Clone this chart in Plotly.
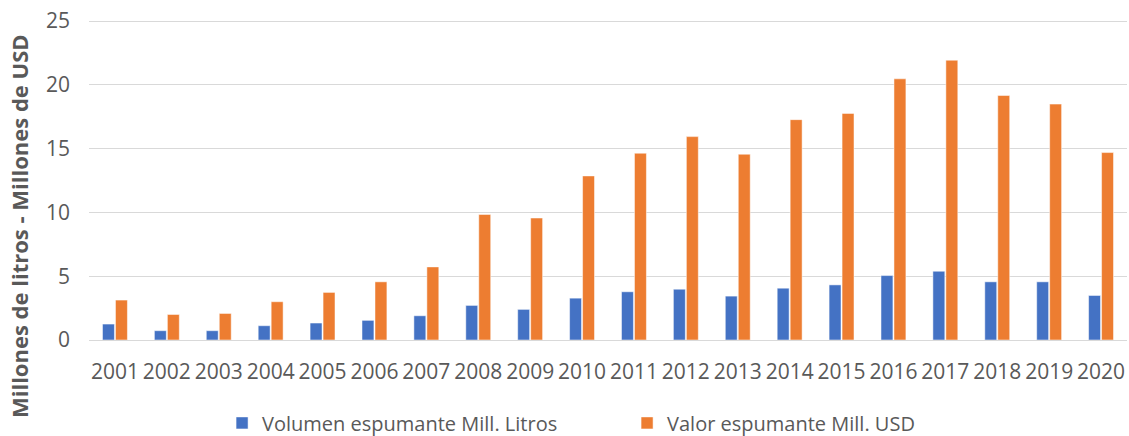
import plotly.graph_objects as go

years = [str(y) for y in range(2001, 2021)]
volumen = [1.25, 0.73, 0.73, 1.12, 1.33, 1.54, 1.90, 2.71, 2.40, 3.28,
           3.78, 3.98, 3.44, 4.06, 4.32, 5.05, 5.39, 4.56, 4.56, 3.49]
valor = [3.13, 2.00, 2.08, 3.00, 3.73, 4.56, 5.73, 9.84, 9.56, 12.86,
         14.64, 15.94, 14.56, 17.27, 17.76, 20.47, 21.93, 19.16, 18.49, 14.69]
y_ticks = [0, 5, 10, 15, 20, 25]
y_title = "Millones de litros - Millones de USD"

FONT = "Open Sans"
TXT = "#595959"

fig = go.Figure()
fig.add_trace(go.Bar(x=years, y=volumen, name="Volumen espumante Mill. Litros",
                     marker=dict(color="#4472C4", line=dict(color="white", width=0.5))))
fig.add_trace(go.Bar(x=years, y=valor, name="Valor espumante Mill. USD",
                     marker=dict(color="#ED7D31", line=dict(color="white", width=0.5))))

fig.update_layout(
    width=1129, height=436,
    margin=dict(l=89, r=2, t=20, b=96),
    paper_bgcolor="white", plot_bgcolor="white",
    barmode="group", bargap=0.5, bargroupgap=0.08,
    font=dict(family=FONT, size=21, color=TXT),
    showlegend=True,
    legend=dict(orientation="h", xref="container", yref="container",
                x=0.1967, xanchor="left", y=0.03, yanchor="middle",
                font=dict(family=FONT, size=20, color=TXT), itemwidth=30,
                entrywidth=360, entrywidthmode="pixels",
                traceorder="normal"),
)
fig.add_annotation(text="<b>" + y_title + "</b>", textangle=-90,
                   xref="paper", yref="paper", x=-0.0675, y=0.356,
                   xanchor="center", yanchor="middle", showarrow=False,
                   font=dict(family=FONT, size=22, color=TXT))
fig.update_xaxes(showgrid=False, showline=False, ticks="", ticklabelstandoff=17,
                 automargin=False, tickangle=0,
                 tickfont=dict(family=FONT, size=21, color=TXT))
fig.update_yaxes(range=[0, 25.08], tickvals=y_ticks, showgrid=True, gridcolor="#D9D9D9",
                 gridwidth=1.3, zeroline=True, zerolinecolor="#D9D9D9", zerolinewidth=1.3,
                 ticks="", ticklabelstandoff=18, automargin=False,
                 tickfont=dict(family=FONT, size=21, color=TXT))

fig.write_html("out.html", config={"displayModeBar": False},
               post_script="document.body.style.margin='0';")
